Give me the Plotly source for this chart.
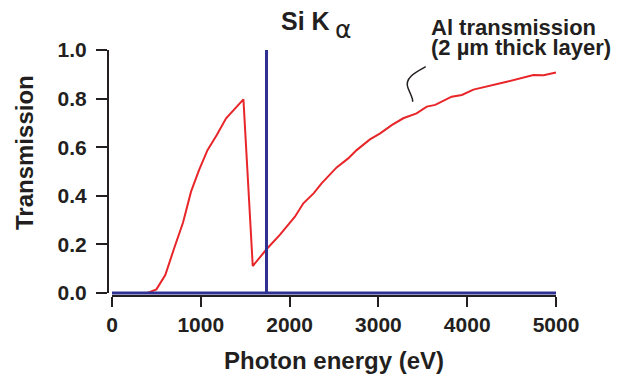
import plotly.graph_objects as go

# ---- data ----
al_energy = [200, 300, 400, 500, 600, 700, 800, 890, 980, 1075, 1180, 1285, 1385, 1480,
             1585, 1740, 1890, 2060, 2155, 2270, 2360, 2530, 2660, 2755, 2905, 3020,
             3150, 3280, 3430, 3545, 3640, 3825, 3940, 4070, 4445, 4745, 4860, 5000]
al_transmission = [0.0, 0.0, 0.0, 0.015, 0.074, 0.184, 0.29, 0.417, 0.506, 0.588, 0.65,
                   0.719, 0.76, 0.797, 0.111, 0.18, 0.239, 0.314, 0.369, 0.41, 0.451,
                   0.517, 0.554, 0.588, 0.632, 0.657, 0.691, 0.719, 0.739, 0.767, 0.774,
                   0.808, 0.815, 0.837, 0.869, 0.897, 0.896, 0.907]
si_energy = [0, 1740, 1740, 1740, 5000]
si_intensity = [0, 0, 1.0, 0, 0]
x_ticks = [0, 1000, 2000, 3000, 4000, 5000]
y_ticks = [0.0, 0.2, 0.4, 0.6, 0.8, 1.0]

W, H = 622, 380
RED = "#e8262a"
BLUE = "#2e3192"
INK = "#231f20"
FONT = "Liberation Sans, Arial, sans-serif"


def px(x):
    return x / W


def py(y):
    return 1 - y / H


fig = go.Figure()
fig.add_trace(go.Scatter(x=al_energy, y=al_transmission, mode="lines",
                         line=dict(color=RED, width=2), showlegend=False, hoverinfo="skip"))
fig.add_trace(go.Scatter(x=si_energy, y=si_intensity, mode="lines",
                         line=dict(color=BLUE, width=3), showlegend=False, hoverinfo="skip"))
# dummy trace for the visible axes subplot
fig.add_trace(go.Scatter(x=[None], y=[None], xaxis="x2", yaxis="y2",
                         showlegend=False, hoverinfo="skip"))

tickfont = dict(family=FONT, size=21, color=INK, weight="bold")

fig.update_layout(
    width=W, height=H, autosize=False,
    margin=dict(l=0, r=0, t=0, b=0, pad=0, autoexpand=False),
    paper_bgcolor="white", plot_bgcolor="rgba(0,0,0,0)",
    xaxis=dict(range=[-200, 5200], domain=[px(94.24), px(573.76)], visible=False),
    yaxis=dict(range=[-0.05, 1.05], domain=[py(305.15), py(37.85)], visible=False),
    xaxis2=dict(range=[0, 5000], domain=[px(112), px(556)], anchor="free", position=py(296),
                showline=True, linewidth=2, linecolor=INK, ticks="outside", ticklen=10,
                tickwidth=2, tickcolor=INK, tickvals=x_ticks, tickfont=tickfont,
                showgrid=False, zeroline=False, automargin=False),
    yaxis2=dict(range=[0, 1], domain=[py(293), py(50)], anchor="free", position=px(108),
                showline=True, linewidth=2, linecolor=INK, ticks="outside", ticklen=11,
                tickwidth=2, tickcolor=INK, tickvals=y_ticks, ticklabelstandoff=5,
                ticktext=[f"{v:.1f}" for v in y_ticks], tickfont=tickfont,
                showgrid=False, zeroline=False, automargin=False),
)

ann_font = dict(family=FONT, color=INK, weight="bold")
fig.add_annotation(x=px(334), y=py(360), xref="paper", yref="paper", showarrow=False,
                   text="Photon energy (eV)", font=dict(size=24, **ann_font),
                   xanchor="center", yanchor="middle")
fig.add_annotation(x=px(24), y=py(153), xref="paper", yref="paper", showarrow=False,
                   text="Transmission", textangle=-90, font=dict(size=24, **ann_font),
                   xanchor="center", yanchor="middle")
fig.add_annotation(x=px(332), y=py(20.5), xref="paper", yref="paper", showarrow=False,
                   text="Si K", font=dict(size=25, **ann_font),
                   xanchor="right", yanchor="middle")
fig.add_annotation(x=px(333), y=py(29), xref="paper", yref="paper", showarrow=False,
                   text="α", font=dict(family="DejaVu Sans, sans-serif", size=25, color=INK),
                   xanchor="left", yanchor="middle")
fig.add_annotation(x=px(429), y=py(27.5), xref="paper", yref="paper", showarrow=False,
                   text="Al transmission", font=dict(size=22, **ann_font),
                   xanchor="left", yanchor="middle")
fig.add_annotation(x=px(429), y=py(47.5), xref="paper", yref="paper", showarrow=False,
                   text="(2 µm thick layer)", font=dict(size=22, **ann_font),
                   xanchor="left", yanchor="middle")


def pt(x, y):
    return f"{px(x):.5f},{py(y):.5f}"


leader = (f"M {pt(425.7, 66.7)} C {pt(416, 72)} {pt(404, 78)} {pt(408, 88)} "
          f"S {pt(413, 98)} {pt(412.7, 101.7)}")
fig.add_shape(type="path", path=leader, xref="paper", yref="paper",
              line=dict(color=INK, width=1.5))

fig.write_html("out.html", config={"displayModeBar": False},
               post_script="document.body.style.margin='0';document.body.style.overflow='hidden';")
